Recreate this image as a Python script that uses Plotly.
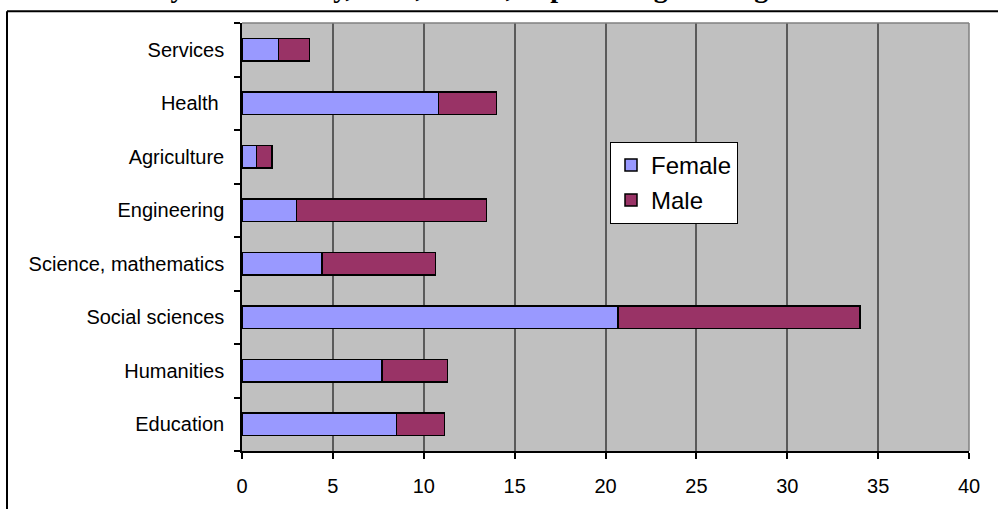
import plotly.graph_objects as go

# Data (bottom-to-top order as in the chart)
categories = ["Education", "Humanities", "Social sciences", "Science, mathematics",
              "Engineering", "Agriculture", "Health\u00a0", "Services"]
female = [8.5, 7.7, 20.7, 4.4, 3.0, 0.8, 10.8, 2.0]
male = [2.65, 3.6, 13.3, 6.25, 10.45, 0.85, 3.2, 1.7]
x_ticks = [0, 5, 10, 15, 20, 25, 30, 35, 40]
title_text = "Graduates by field of study, 2005, EU-27, in percentage of all graduates"

W, H = 998, 509
ml, mr, mt, mb = 242, 29, 23, 50
pw, ph = W - ml - mr, H - mt - mb

def px_x(p):
    return (p - ml) / pw

def px_y(p):
    return (H - mb - p) / ph

fig = go.Figure()
fig.add_trace(go.Bar(y=categories, x=female, name="Female", orientation="h",
                     marker=dict(color="#9999FF", line=dict(color="black", width=1.5)),
                     legendgroup="f"))
fig.add_trace(go.Bar(y=categories, x=male, name="Male", orientation="h",
                     marker=dict(color="#993366", line=dict(color="black", width=1.5)),
                     legendgroup="m"))

font_family = "Arial, Liberation Sans, sans-serif"

fig.update_layout(
    width=W, height=H,
    margin=dict(l=ml, r=mr, t=mt, b=mb, pad=0),
    barmode="stack",
    bargap=0.58,
    plot_bgcolor="#C0C0C0",
    paper_bgcolor="white",
    font=dict(family=font_family, size=20, color="black"),
    showlegend=True,
    legend=dict(x=px_x(610), y=px_y(144), xanchor="left", yanchor="top",
                bgcolor="white", bordercolor="black", borderwidth=1,
                font=dict(size=24, family=font_family, color="black"),
                traceorder="grouped", tracegroupgap=1),
    xaxis=dict(range=[0, 40], tickvals=x_ticks, ticktext=[str(v) for v in x_ticks],
               showgrid=True, gridcolor="#5a5a5a", gridwidth=1.5,
               showline=True, linecolor="black", linewidth=1.5,
               ticks="outside", ticklen=6, tickcolor="black", tickwidth=1.5,
               ticklabelstandoff=10, zeroline=False, fixedrange=True),
    yaxis=dict(showgrid=False, showline=True, linecolor="black", linewidth=1.5,
               ticks="outside", ticklen=6, tickcolor="black", tickwidth=1.5,
               tickson="boundaries", ticklabelstandoff=12, fixedrange=True),
    shapes=[
        # plot-area border (top and right, gray)
        dict(type="line", xref="paper", yref="paper", x0=0, x1=1, y0=1, y1=1,
             line=dict(color="#808080", width=1.5)),
        dict(type="line", xref="paper", yref="paper", x0=1, x1=1, y0=0, y1=1,
             line=dict(color="#808080", width=1.5)),
        # outer chart border (left and top, partly outside the view)
        dict(type="line", xref="paper", yref="paper", x0=px_x(7), x1=px_x(7),
             y0=px_y(11), y1=px_y(560), line=dict(color="black", width=2)),
        dict(type="line", xref="paper", yref="paper", x0=px_x(7), x1=px_x(1040),
             y0=px_y(11), y1=px_y(11), line=dict(color="black", width=2)),
    ],
    annotations=[
        dict(text=title_text, xref="paper", yref="paper", x=px_x(447), y=px_y(-13),
             xanchor="center", yanchor="middle", showarrow=False,
             font=dict(family="Times New Roman, Liberation Serif, serif", size=28,
                       color="black", weight="bold")),
    ],
)

fig.write_html("out.html", config={"displayModeBar": False},
               post_script="document.body.style.margin='0';document.body.style.overflow='hidden';")
